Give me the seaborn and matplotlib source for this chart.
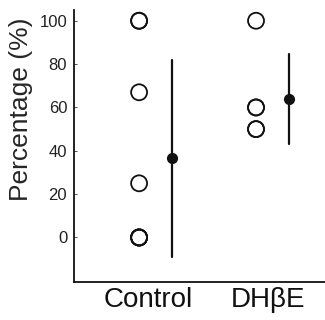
import matplotlib
matplotlib.use('Agg')
import matplotlib.pyplot as plt
import matplotlib.transforms as mtransforms
import pandas as pd
import seaborn as sns

# values
groups = ['Control', 'DHβE']
control_vals = [100, 100, 67, 25, 0, 0, 0, 0]
dhbe_vals = [100, 60, 60, 50, 50]
y_ticks = [0, 20, 40, 60, 80, 100]

df = pd.DataFrame({
    'group': ['Control'] * len(control_vals) + ['DHβE'] * len(dhbe_vals),
    'pct': control_vals + dhbe_vals,
})

sns.set_style('white')
plt.rcParams['font.family'] = ['Liberation Sans', 'DejaVu Sans']

fig = plt.figure(figsize=(3.25, 3.2), dpi=100)
ax = fig.add_axes([0.228, 0.119, 0.772, 0.85])

# individual animals as open circles
sns.stripplot(data=df, x='group', y='pct', order=groups, jitter=False,
              marker='o', size=11.5, facecolor='none', edgecolor='#111111',
              linewidth=1.3, ax=ax)

# mean +/- SD, drawn a little to the right of each column
n_before = len(ax.lines)
n_coll = len(ax.collections)
sns.pointplot(data=df, x='group', y='pct', order=groups, errorbar='sd',
              linestyle='none', color='#111111', markersize=6,
              err_kws={'linewidth': 1.6}, ax=ax)
shift = mtransforms.Affine2D().translate(0.28, 0) + ax.transData
for ln in ax.lines[n_before:]:
    ln.set_transform(shift)
for coll in ax.collections[n_coll:]:
    coll.set_transform(shift)

ax.set_xlim(-0.556, 1.59)
ax.set_ylim(-20.5, 105)
ax.set_yticks(y_ticks)
ax.set_xticks([0.08, 1.1])
ax.set_xticklabels(groups, fontsize=20)
ax.set_xlabel('')
ax.set_ylabel('Percentage (%)', fontsize=19)
ax.yaxis.set_label_coords(-0.165, 0.635)
ax.tick_params(axis='y', direction='in', length=2, width=0.6, labelsize=12,
               pad=5, left=True, colors='#333333', labelcolor='#222222')
ax.tick_params(axis='x', length=0, pad=4, labelcolor='#111111')

sns.despine(ax=ax)
for side in ['left', 'bottom']:
    ax.spines[side].set_color('#111111')
    ax.spines[side].set_linewidth(1.3)

fig.savefig('out.png', dpi=100)
